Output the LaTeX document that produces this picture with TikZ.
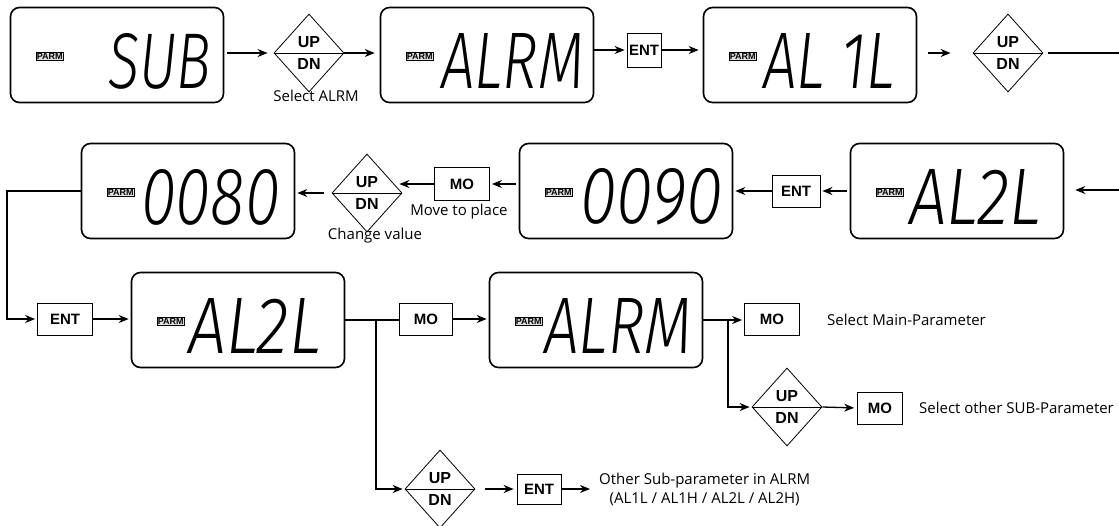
\documentclass[tikz,border=0pt]{standalone}
\usepackage{fontspec}
\usepackage{graphicx}
\usetikzlibrary{arrows.meta, shapes.geometric, positioning}
\newfontfamily\labfont{Open Sans}
\newfontfamily\keyfont{Liberation Sans}
\newfontfamily\lcdfont{Fira Sans Light Italic}
% lcd panel: name, centre, reading, reading width, right margin
\newcommand{\lcd}[5]{%
  \node[lcd] (#1) at (#2) {};
  \node[parm] (#1-p) at ([xshift=40pt,yshift=-1pt]#1.west) {PARM};
  \node[seg, anchor=east] (#1-t) at ([xshift=-#5pt,yshift=-6pt]#1.east)
       {\resizebox{#4pt}{55pt}{\lcdfont #3}};}
% up/down key: name, centre
\newcommand{\updn}[2]{%
  \node[updn] (#1) at (#2) {};
  \draw[line width=0.8pt] (#1.west) -- (#1.east);
  \node[kl] (#1-u) at ([yshift=11pt]#1.center) {UP};
  \node[kl] (#1-d) at ([yshift=-11pt]#1.center) {DN};}

\begin{document}
\begin{tikzpicture}[
    x=1pt, y=-1pt,
    >={Stealth[length=10pt,width=8pt]},
    lcd/.style={draw, line width=1.6pt, rounded corners=9pt,
                minimum width=213pt, minimum height=95pt, inner sep=0pt},
    parm/.style={draw, fill=black!12, line width=0.5pt, inner sep=0.9pt,
                 font=\keyfont\bfseries\fontsize{9}{9}\selectfont},
    seg/.style={inner sep=0pt},
    key/.style={draw, line width=0.8pt, inner sep=0pt,
                font=\keyfont\bfseries\fontsize{15}{15}\selectfont},
    updn/.style={diamond, draw, line width=0.8pt, minimum width=70pt,
                 minimum height=78pt, inner sep=0pt},
    kl/.style={inner sep=0pt, font=\keyfont\bfseries\fontsize{16}{16}\selectfont},
    lab/.style={inner sep=1pt, align=center,
                font=\labfont\fontsize{15}{19}\selectfont},
    sig/.style={->, line width=1.3pt, shorten >=2pt},
    wire/.style={line width=1.3pt},
  ]
  \useasboundingbox (0,0) rectangle (1119,525);

  %% ---- first row ------------------------------------------------------
  \lcd{sub}{117,55}{SUB}{103}{13}
  \updn{ud1}{309,53}
  \node[lab, below=-3pt of ud1, xshift=7pt] (sel) {Select ALRM};
  \lcd{alrm}{487,55}{ALRM}{143}{10}
  \node[key, minimum width=34pt, minimum height=34pt] (ent1) at (644,50) {ENT};
  \lcd{alA}{810,55}{AL 1L}{132}{22}
  \updn{ud2}{1008,53}
  \coordinate (r1out) at (1119,53);

  \draw[sig, shorten <=3pt, shorten >=6pt] (sub.east |- ud1.west) -- (ud1.west);
  \draw[sig, shorten >=5pt] (ud1.east) -- (alrm.west |- ud1.east);
  \draw[sig] (alrm.east |- ent1) -- (ent1.west);
  \draw[sig, shorten >=4pt] (ent1.east) -- (alA.west |- ent1);
  \draw[sig, shorten <=11pt, shorten >=22pt] (alA.east |- ud2.west) -- (ud2.west);
  \draw[wire, shorten <=5pt] (ud2.east) -- (r1out);

  %% ---- second row (right to left) -------------------------------------
  \coordinate (r2in) at (1119,190);
  \lcd{alB}{957,191}{AL2L}{132}{23}
  \node[key, minimum width=48pt, minimum height=32pt] (ent2) at (796,191) {ENT};
  \lcd{v90}{626,191}{0090}{143}{10}
  \node[key, minimum width=55pt, minimum height=33pt] (mo1) at (462,184) {MO};
  \node[lab, below=2pt of mo1, xshift=-3pt] (mvp) {Move to place};
  \updn{ud3}{367,193}
  \node[lab, below=-6pt of ud3, xshift=8pt] (chv) {Change value};
  \lcd{v80}{188,191}{0080}{139}{15}

  \draw[sig, shorten >=11pt] (r2in) -- (alB.east |- r2in);
  \draw[sig, shorten <=3pt] (alB.west |- ent2) -- (ent2.east);
  \draw[sig] (ent2.west) -- (v90.east |- ent2);
  \draw[sig, shorten <=3pt] (v90.west |- mo1) -- (mo1.east);
  \draw[sig, shorten >=-3pt] (mo1.west) -- (ud3.east |- mo1);
  \draw[sig, shorten <=8pt] (ud3.west) -- (v80.east |- ud3);

  %% ---- third row and branches -----------------------------------------
  \coordinate (bend) at (7,191);
  \node[key, minimum width=55pt, minimum height=32pt] (ent3) at (65,319) {ENT};
  \lcd{alC}{238,320}{AL2L}{133}{24}
  \node[key, minimum width=53pt, minimum height=32pt] (mo2) at (426,319) {MO};
  \lcd{alrm2}{596,320}{ALRM}{148}{11}
  \node[key, minimum width=55pt, minimum height=32pt] (mo3) at (772,319) {MO};
  \node[lab, anchor=west] (smp) at (826,320) {Select Main-Parameter};
  \updn{ud4}{787,407}
  \node[key, minimum width=45pt, minimum height=32pt] (mo4) at (880,408) {MO};
  \node[lab, anchor=west] (sop) at (918,408) {Select other SUB-Parameter};
  \updn{ud5}{440,489}
  \node[key, minimum width=44pt, minimum height=30pt] (ent4) at (539,489) {ENT};
  \node[lab, anchor=west] (osp) at (598,489)
       {Other Sub-parameter in ALRM\\(AL1L / AL1H / AL2L / AL2H)};
  \coordinate (j1) at (376,320);
  \coordinate (j2) at (728,320);

  \draw[sig] (v80.west) -- (bend) |- (ent3.west);
  \draw[sig] (ent3.east) -- (alC.west |- ent3);
  \draw[wire] (alC.east) -- (mo2.west |- alC.east);
  \draw[sig] (mo2.east) -- (alrm2.west |- mo2);
  \draw[sig] (alrm2.east) -- (mo3.west |- alrm2.east);
  \draw[sig] (j2) |- (ud4.west);
  \draw[sig, shorten >=3pt] (ud4.east) -- (mo4.west);
  \draw[sig] (j1) |- (ud5.west);
  \draw[sig, shorten <=10pt, shorten >=3pt] (ud5.east) -- (ent4.west);
  \draw[sig, shorten >=8pt] (ent4.east) -- (osp.west);

\end{tikzpicture}
\end{document}
